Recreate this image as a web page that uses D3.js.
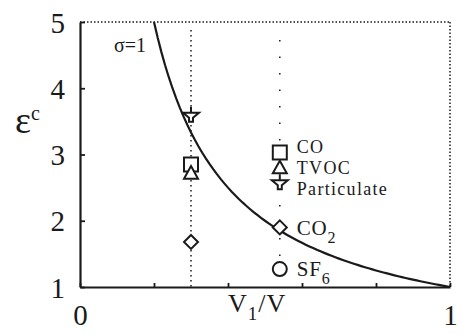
<!DOCTYPE html>
<html>
<head>
<meta charset="utf-8">
<script src="https://cdn.jsdelivr.net/npm/d3@7"></script>
<style>
  body { margin: 0; background: #fff; }
</style>
</head>
<body>
<div id="chart"></div>
<script>
// pollutants and their measured ventilation effectiveness
const species = ["CO", "TVOC", "Particulate", "CO2", "SF6"];
const shapes = ["square", "triangle", "particulate", "diamond", "circle"];
// two zone-volume ratios
const ratios = [0.3, 0.54];
const epsLow = [2.85, 2.72, 3.6, 1.68, null];   // at V1/V = 0.3
const epsHigh = [3.03, 2.8, 2.58, 1.9, 1.27];   // at V1/V = 0.54
const xTicks = [0, 0.2, 0.4, 0.6, 0.8, 1];
const yTicks = [1, 2, 3, 4, 5];
// sigma = 1 curve: eps = 1 / (V1/V)
const curveX = d3.range(0.2, 1.0001, 0.01);

const width = 463, height = 334;
const margin = { top: 22, right: 13, bottom: 47, left: 80 };
const plotW = width - margin.left - margin.right;
const plotH = height - margin.top - margin.bottom;
const ink = "#1a1a1a";

const svg = d3.select("#chart").append("svg").attr("width", width).attr("height", height);
const g = svg.append("g").attr("transform", `translate(${margin.left},${margin.top})`);

const x = d3.scaleLinear().domain([0, 1]).range([0, plotW]);
const y = d3.scaleLinear().domain([1, 5]).range([plotH, 0]);

// dotted top & right frame
g.append("line").attr("x1", 0).attr("x2", plotW).attr("y1", 0).attr("y2", 0)
  .attr("stroke", ink).attr("stroke-width", 1.5).attr("stroke-dasharray", "1.5,2");
g.append("line").attr("x1", plotW).attr("x2", plotW).attr("y1", 0).attr("y2", plotH)
  .attr("stroke", ink).attr("stroke-width", 1.5).attr("stroke-dasharray", "1.5,2");

// dotted guides at the two ratios
g.append("line").attr("x1", x(ratios[0])).attr("x2", x(ratios[0])).attr("y1", 8).attr("y2", plotH)
  .attr("stroke", ink).attr("stroke-width", 1.5).attr("stroke-dasharray", "1.5,3.5");
g.append("line").attr("x1", x(ratios[1])).attr("x2", x(ratios[1])).attr("y1", 18).attr("y2", plotH)
  .attr("stroke", ink).attr("stroke-width", 1.5).attr("stroke-dasharray", "1.5,15");

// axes
const xAxis = g.append("g").attr("transform", `translate(0,${plotH})`)
  .call(d3.axisBottom(x).tickValues(xTicks).tickSizeInner(-4).tickSizeOuter(0)
    .tickFormat(d => (d === 0 || d === 1) ? d3.format("d")(d) : ""));
const yAxis = g.append("g")
  .call(d3.axisLeft(y).tickValues(yTicks).tickSizeInner(-5).tickSizeOuter(0).tickFormat(d3.format("d")));
[xAxis, yAxis].forEach(a => {
  a.select(".domain").attr("stroke", ink).attr("stroke-width", 2.2);
  a.selectAll(".tick line").attr("stroke", ink).attr("stroke-width", 1.8);
  a.selectAll(".tick text").attr("font-size", 29).attr("fill", ink);
});
xAxis.selectAll(".tick text").attr("dy", "1.2em");
yAxis.selectAll(".tick text").attr("x", -15).attr("dy", "0.35em");

// curve
const line = d3.line().x(d => x(d)).y(d => y(1 / d));
g.append("path").datum(curveX).attr("d", line)
  .attr("fill", "none").attr("stroke", ink).attr("stroke-width", 2.2);

// markers
const r = 7;
function markerPath(s) {
  if (s === "square") return `M${-r},${-r}H${r}V${r}H${-r}Z`;
  if (s === "triangle") return `M0,${-r}L${r},${r * 0.8}H${-r}Z`;
  if (s === "diamond") return `M0,${-r}L${r},0L0,${r}L${-r},0Z`;
  if (s === "circle") return `M${-r},0A${r},${r} 0 1,0 ${r},0A${r},${r} 0 1,0 ${-r},0Z`;
  // particulate: stem, wide bar, tapering to a short stem
  return `M0,${-r - 1}V${-2}M${-r - 1},${-2}H${r + 1}L${2},${3}V${r}H${-2}V${3}Z`;
}
const pts = [];
species.forEach((s, i) => {
  if (epsLow[i] != null) pts.push({ s: shapes[i], vx: ratios[0], vy: epsLow[i] });
  pts.push({ s: shapes[i], vx: ratios[1], vy: epsHigh[i] });
});
g.selectAll(".mk").data(pts).enter().append("path").attr("class", "mk")
  .attr("transform", d => `translate(${x(d.vx)},${y(d.vy)})`)
  .attr("d", d => markerPath(d.s))
  .attr("fill", "#fff").attr("stroke", ink).attr("stroke-width", 2);

// labels next to the V1/V = 0.54 markers; the first three are stacked as a legend
const labelX = x(ratios[1]) + 17;
const stackMid = y(epsHigh[1]);
const labelY = (d, i) => i < 3 ? stackMid + (i - 1) * 21 : y(epsHigh[i]);
const lab = g.selectAll(".lab").data(species).enter().append("text").attr("class", "lab")
  .attr("x", labelX).attr("y", labelY).attr("dy", "0.35em")
  .attr("font-size", 18).attr("letter-spacing", 1.3).attr("fill", ink);
lab.each(function (d) {
  const t = d3.select(this);
  const m = d.match(/^([A-Z]+)(\d)$/);
  if (m) {
    t.append("tspan").text(m[1]);
    t.append("tspan").attr("font-size", 16).attr("dy", 8).text(m[2]);
  } else {
    t.text(d);
  }
});
lab.filter((d, i) => i >= 3).attr("font-size", 21).attr("letter-spacing", 0.8);

// sigma label
g.append("text").attr("x", 34).attr("y", 30).attr("font-size", 20).attr("fill", ink).text("σ=1");

// axis titles
const xt = svg.append("text").attr("x", 228).attr("y", 312).attr("font-size", 26)
  .attr("letter-spacing", 1).attr("fill", ink);
xt.append("tspan").text("V");
xt.append("tspan").attr("font-size", 19).attr("dy", 8).text("1");
xt.append("tspan").attr("dy", -8).text("/V");

const yt = svg.append("text").attr("x", 15).attr("y", 133).attr("font-size", 38).attr("fill", ink);
yt.append("tspan").text("ε");
yt.append("tspan").attr("font-size", 20).attr("dy", -13).text("c");

// serif everywhere, set on each text directly
svg.selectAll("text").style("font-family", "\"Liberation Serif\"");
</script>
</body>
</html>
